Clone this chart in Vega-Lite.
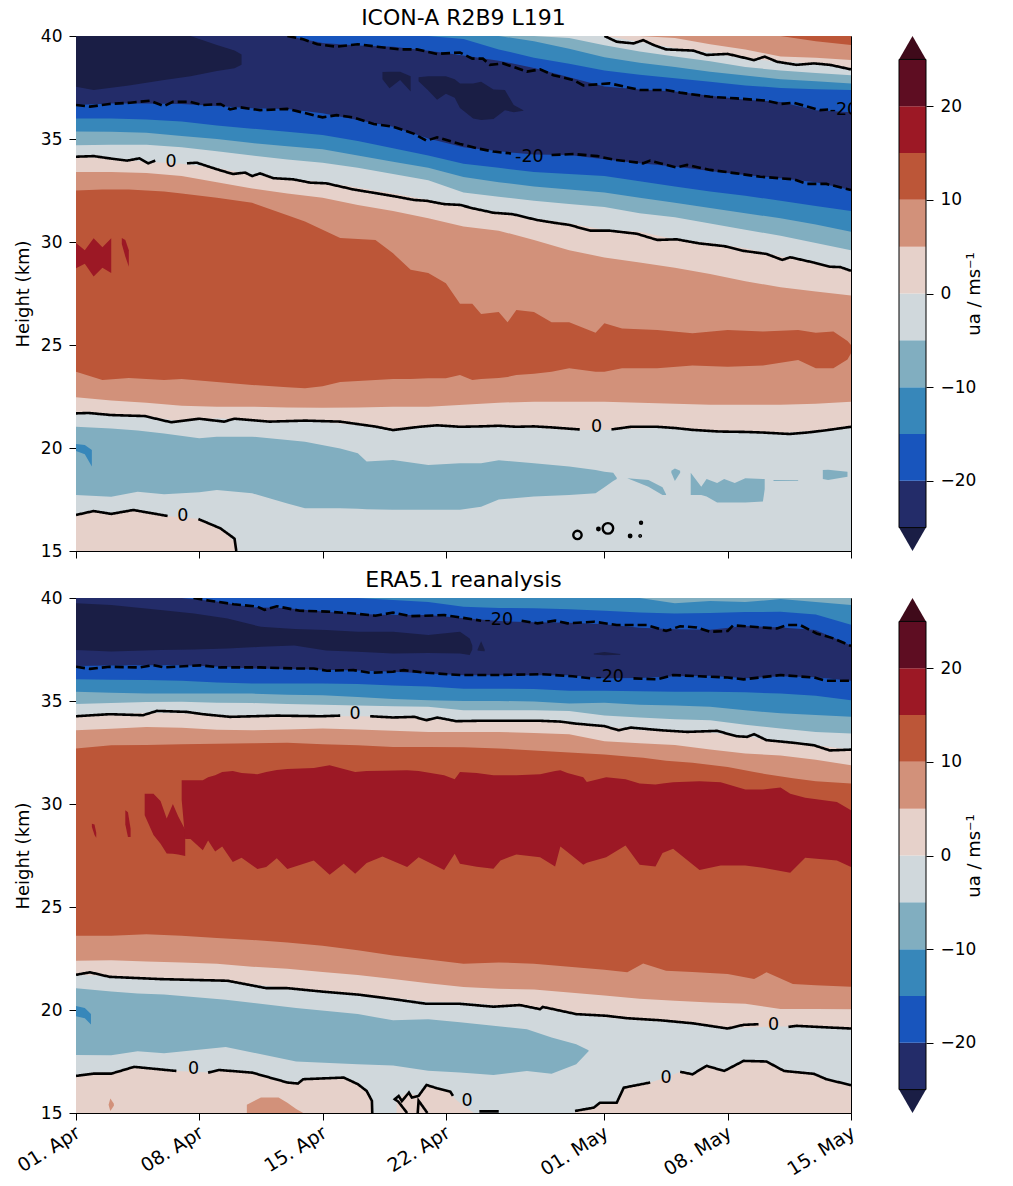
{"$schema":"https://vega.github.io/schema/vega-lite/v6.json","background":"white","padding":{"left":13,"top":6,"right":0,"bottom":0},
"config":{"font":"DejaVu Sans","view":{"stroke":"black","strokeWidth":1},"title":{"fontSize":22,"fontWeight":"normal","font":"DejaVu Sans","offset":-3,"color":"black"},"axis":{"grid":false,"domainColor":"black","tickColor":"black","labelColor":"black","titleColor":"black","labelFont":"DejaVu Sans","titleFont":"DejaVu Sans","labelFontSize":17,"titleFontSize":18,"titleFontWeight":"normal","tickSize":7,"labelPadding":7,"titlePadding":8}},
"datasets":{
"topBands":[
{"d":0,"a":40,"b":40,"c":40,"e":40,"f":40,"g":40,"h":40,"i":40,"j":36.65,"k":36,"l":35.36,"m":34.7,"n":34.14,"o":33.4,"p":22.46,"q":21.68},
{"d":2,"j":36.72,"k":36,"l":35.35,"m":34.72,"n":34.06,"o":33.4,"p":22.3,"q":21.65},
{"d":4,"j":36.72,"k":35.95,"l":35.3,"m":34.72,"n":33.9,"o":33.35,"p":22.2,"q":21.52},
{"d":6,"j":36.7,"k":35.85,"l":35.15,"m":34.6,"n":33.8,"o":33.2,"p":22.05,"q":21.3},
{"d":8,"j":36.6,"k":35.65,"l":35,"m":34.4,"n":33.6,"o":32.9,"p":22,"q":21.44},
{"d":10,"j":36.49,"k":35.5,"l":34.8,"m":34.2,"n":33.25,"o":32.6,"p":22,"q":21.35},
{"d":12,"i":40,"j":36.46,"k":35.35,"l":34.65,"m":34,"n":33.1,"o":32.35,"p":21.97,"q":21.28},
{"d":14,"i":39.66,"j":36.25,"k":35.2,"l":34.5,"m":33.85,"n":32.9,"o":32.15,"p":21.95,"q":21.28},
{"d":16,"i":39.54,"j":35.92,"k":34.9,"l":34.2,"m":33.6,"n":32.65,"o":31.8,"p":21.97,"q":21.1},
{"d":18,"i":39.48,"j":35.6,"k":34.55,"l":33.9,"m":33.3,"n":32.36,"o":31.5,"p":22,"q":20.87},
{"d":20,"h":40,"i":39.28,"j":35.03,"k":34.2,"l":33.6,"m":33,"n":32.05,"o":31.15,"p":22,"q":21.1},
{"d":22,"g":40,"h":39.85,"i":39.05,"j":34.6,"k":33.8,"l":33.15,"m":32.4,"n":31.7,"o":30.75,"p":22.1,"q":21.03},
{"d":24,"f":40,"g":40,"h":39.35,"i":38.8,"j":34.4,"k":33.6,"l":32.9,"m":32.2,"n":31.4,"o":30.55,"p":22.2,"q":21.05},
{"d":26,"f":40,"g":39.75,"h":38.95,"i":38.45,"j":34.25,"k":33.4,"l":32.7,"m":32,"n":31.15,"o":30.1,"p":22.25,"q":21},
{"d":28,"e":40,"f":39.9,"g":39.38,"h":38.65,"i":38,"j":34.22,"k":33.3,"l":32.55,"m":31.85,"n":30.9,"o":29.6,"p":22.25,"q":20.87},
{"d":30,"e":40,"f":39.55,"g":38.97,"h":38.33,"i":37.55,"j":34.02,"k":33.2,"l":32.4,"m":31.7,"n":30.6,"o":29.25,"p":22.25,"q":20.87},
{"d":32,"c":40,"e":39.72,"f":39.25,"g":38.7,"h":38.12,"i":37.4,"j":33.82,"k":32.95,"l":32.15,"m":31.4,"n":30.5,"o":29,"p":22.2,"q":20.95},
{"d":34,"c":39.9,"e":39.4,"f":39,"g":38.5,"h":37.95,"i":37.3,"j":33.66,"k":32.7,"l":31.9,"m":31.2,"n":30.13,"o":28.75,"p":22.15,"q":21},
{"d":36,"c":39.6,"e":39.2,"f":38.78,"g":38.27,"h":37.78,"i":37.1,"j":33.45,"k":32.45,"l":31.65,"m":30.9,"n":29.95,"o":28.45,"p":22.1,"q":20.85},
{"d":38,"b":40,"c":39.35,"e":38.9,"f":38.5,"g":38.08,"h":37.6,"i":36.9,"j":33.25,"k":32.25,"l":31.4,"m":30.6,"n":29.7,"o":28.1,"p":22.1,"q":20.8},
{"d":40,"b":40,"c":39,"e":38.75,"f":38.32,"g":37.9,"h":37.48,"i":36.8,"j":33.09,"k":32,"l":31.15,"m":30.3,"n":29.3,"o":27.8,"p":22.1,"q":20.71},
{"d":42,"b":39.75,"c":38.95,"e":38.67,"f":38.2,"g":37.8,"h":37.42,"i":36.4,"j":32.9,"k":31.75,"l":30.85,"m":29.95,"n":29,"o":27.6,"p":22.15,"q":20.85},
{"d":44,"a":40,"b":39.56,"c":38.83,"e":38.38,"f":38.1,"g":37.7,"h":37.38,"i":36.3,"j":32.52,"k":31.5,"l":30.5,"m":29.6,"n":28.65,"o":27.4,"p":22.25,"q":21.03}],
"botBands":[
{"d":0,"f":40,"g":40,"h":40,"i":40,"j":36.7,"k":36.05,"l":35.45,"m":34.85,"n":34.26,"o":33.58,"p":22.39,"q":21.71},
{"d":2,"j":36.72,"k":36.03,"l":35.4,"m":34.9,"n":34.36,"o":33.65,"p":22.42,"q":21.65},
{"d":4,"j":36.74,"k":36.02,"l":35.37,"m":34.95,"n":34.42,"o":33.74,"p":22.35,"q":21.55},
{"d":6,"i":40,"j":36.74,"k":35.98,"l":35.36,"m":34.96,"n":34.4,"o":33.7,"p":22.3,"q":21.45},
{"d":8,"i":39.83,"j":36.68,"k":35.9,"l":35.36,"m":34.92,"n":34.3,"o":33.6,"p":22.25,"q":21.4},
{"d":10,"i":39.55,"j":36.58,"k":35.85,"l":35.36,"m":34.9,"n":34.28,"o":33.58,"p":22.1,"q":21.25},
{"d":12,"i":39.5,"j":36.55,"k":35.85,"l":35.3,"m":34.85,"n":34.26,"o":33.62,"p":22,"q":21.05},
{"d":14,"h":40,"i":39.34,"j":36.52,"k":35.85,"l":35.28,"m":34.82,"n":34.26,"o":33.66,"p":21.85,"q":20.9},
{"d":16,"h":40,"i":39.22,"j":36.48,"k":35.82,"l":35.2,"m":34.78,"n":34.26,"o":33.62,"p":21.7,"q":20.75},
{"d":18,"h":39.9,"i":39.17,"j":36.42,"k":35.75,"l":35.1,"m":34.74,"n":34.24,"o":33.55,"p":21.5,"q":20.6},
{"d":20,"h":39.8,"i":39.17,"j":36.34,"k":35.7,"l":35.04,"m":34.72,"n":34.15,"o":33.5,"p":21.3,"q":20.4},
{"d":22,"h":39.58,"i":39.02,"j":36.25,"k":35.6,"l":35,"m":34.55,"n":34.04,"o":33.5,"p":21.12,"q":20.37},
{"d":24,"h":39.52,"i":38.88,"j":36.25,"k":35.6,"l":35,"m":34.55,"n":34.05,"o":33.5,"p":21.03,"q":20.22},
{"d":26,"h":39.5,"i":38.82,"j":36.25,"k":35.58,"l":34.98,"m":34.55,"n":34.03,"o":33.45,"p":21,"q":20.12},
{"d":28,"h":39.45,"i":38.8,"j":36.25,"k":35.5,"l":34.88,"m":34.52,"n":33.95,"o":33.38,"p":20.85,"q":19.85},
{"d":30,"h":39.38,"i":38.72,"j":36.1,"k":35.5,"l":34.92,"m":34.3,"n":33.78,"o":33.05,"p":20.7,"q":19.65},
{"d":32,"g":40,"h":39.3,"i":38.55,"j":36.12,"k":35.47,"l":34.82,"m":34.2,"n":33.58,"o":32.95,"p":20.55,"q":19.5},
{"d":34,"g":39.74,"h":39.25,"i":38.48,"j":36.2,"k":35.45,"l":34.78,"m":34.12,"n":33.55,"o":32.87,"p":20.45,"q":19.4},
{"d":36,"g":39.85,"h":39.27,"i":38.46,"j":36.22,"k":35.45,"l":34.72,"m":34.07,"n":33.46,"o":32.65,"p":20.37,"q":19.2},
{"d":38,"g":39.8,"h":39.32,"i":38.64,"j":36.1,"k":35.42,"l":34.55,"m":33.85,"n":33.3,"o":32.45,"p":20.3,"q":19.15},
{"d":40,"g":39.95,"h":39.33,"i":38.57,"j":36.2,"k":35.36,"l":34.4,"m":33.66,"n":33,"o":32.35,"p":20.05,"q":19.2},
{"d":42,"g":39.8,"h":39.2,"i":38.45,"j":36.15,"k":35.25,"l":34.32,"m":33.5,"n":32.85,"o":32.15,"p":20.05,"q":19.2},
{"d":44,"f":40,"g":39.66,"h":38.7,"i":37.7,"j":35.98,"k":35.04,"l":34.23,"m":33.42,"n":32.64,"o":31.88,"p":20.04,"q":19.1}],
"topPatches":[
{"r":"dk1","v":"lt","d":0,"lo":37.54,"hi":40},{"r":"dk1","v":"lt","d":1,"lo":37.38,"hi":40},{"r":"dk1","v":"lt","d":3,"lo":37.6,"hi":40},{"r":"dk1","v":"lt","d":5,"lo":37.86,"hi":40},{"r":"dk1","v":"lt","d":6.5,"lo":38.05,"hi":40},{"r":"dk1","v":"lt","d":8,"lo":38.3,"hi":39.56},{"r":"dk1","v":"lt","d":9,"lo":38.43,"hi":39.3},{"r":"dk1","v":"lt","d":9.4,"lo":38.6,"hi":39.1},
{"r":"dk2","v":"lt","d":17.4,"lo":37.9,"hi":38.25},{"r":"dk2","v":"lt","d":17.8,"lo":37.46,"hi":38.27},{"r":"dk2","v":"lt","d":18.4,"lo":37.86,"hi":38.27},{"r":"dk2","v":"lt","d":19,"lo":37.3,"hi":38.05},
{"r":"dk3","v":"lt","d":19.45,"lo":37.8,"hi":38},{"r":"dk3","v":"lt","d":20,"lo":37.35,"hi":38.05},{"r":"dk3","v":"lt","d":20.5,"lo":36.9,"hi":38.05},{"r":"dk3","v":"lt","d":21,"lo":37.2,"hi":38.05},{"r":"dk3","v":"lt","d":21.5,"lo":37,"hi":37.9},{"r":"dk3","v":"lt","d":21.8,"lo":36.5,"hi":37.7},{"r":"dk3","v":"lt","d":22.55,"lo":36,"hi":37.7},{"r":"dk3","v":"lt","d":23,"lo":35.92,"hi":37.78},{"r":"dk3","v":"lt","d":23.7,"lo":35.97,"hi":37.4},{"r":"dk3","v":"lt","d":24.35,"lo":36.4,"hi":37.38},{"r":"dk3","v":"lt","d":24.85,"lo":36.3,"hi":36.65},{"r":"dk3","v":"lt","d":25.4,"lo":36.37,"hi":36.4},
{"r":"br","v":"10","d":0,"lo":23.7,"hi":32.5},{"r":"br","v":"10","d":1.5,"lo":23.3,"hi":32.55},{"r":"br","v":"10","d":3,"lo":23.4,"hi":32.55},{"r":"br","v":"10","d":5,"lo":23.3,"hi":32.45},{"r":"br","v":"10","d":6,"lo":23.35,"hi":32.36},{"r":"br","v":"10","d":8,"lo":23.2,"hi":32.15},{"r":"br","v":"10","d":10,"lo":23.06,"hi":31.9},{"r":"br","v":"10","d":12,"lo":22.95,"hi":31.3},{"r":"br","v":"10","d":13,"lo":22.9,"hi":31},{"r":"br","v":"10","d":14,"lo":23,"hi":30.6},{"r":"br","v":"10","d":15,"lo":23.2,"hi":30.2},{"r":"br","v":"10","d":17,"lo":23.3,"hi":30.1},{"r":"br","v":"10","d":18,"lo":23.35,"hi":29.45},{"r":"br","v":"10","d":19,"lo":23.35,"hi":28.65},{"r":"br","v":"10","d":20,"lo":23.38,"hi":28.5},{"r":"br","v":"10","d":21,"lo":23.38,"hi":28},{"r":"br","v":"10","d":21.8,"lo":23.54,"hi":27},{"r":"br","v":"10","d":22.5,"lo":23.3,"hi":27},{"r":"br","v":"10","d":23,"lo":23.35,"hi":26.5},{"r":"br","v":"10","d":24,"lo":23.4,"hi":26.6},{"r":"br","v":"10","d":24.5,"lo":23.45,"hi":26.1},{"r":"br","v":"10","d":25,"lo":23.54,"hi":26.7},{"r":"br","v":"10","d":26,"lo":23.6,"hi":26.6},{"r":"br","v":"10","d":27,"lo":23.7,"hi":26.1},{"r":"br","v":"10","d":28,"lo":23.87,"hi":26.1},{"r":"br","v":"10","d":29.5,"lo":23.7,"hi":25.6},{"r":"br","v":"10","d":30,"lo":23.7,"hi":26.05},{"r":"br","v":"10","d":31,"lo":23.87,"hi":25.8},{"r":"br","v":"10","d":33,"lo":23.87,"hi":25.73},{"r":"br","v":"10","d":35,"lo":24,"hi":25.57},{"r":"br","v":"10","d":37,"lo":23.95,"hi":25.73},{"r":"br","v":"10","d":39,"lo":24,"hi":25.65},{"r":"br","v":"10","d":41,"lo":24.27,"hi":25.73},{"r":"br","v":"10","d":42,"lo":23.87,"hi":25.6},{"r":"br","v":"10","d":43,"lo":23.87,"hi":25.65},{"r":"br","v":"10","d":43.8,"lo":24.3,"hi":25.2},{"r":"br","v":"10","d":44,"lo":24.6,"hi":25},
{"r":"red1","v":"15","d":0,"lo":28.72,"hi":29.95},{"r":"red1","v":"15","d":0.5,"lo":28.95,"hi":29.6},{"r":"red1","v":"15","d":1,"lo":28.32,"hi":30.18},{"r":"red1","v":"15","d":1.5,"lo":28.75,"hi":29.75},{"r":"red1","v":"15","d":2,"lo":28.5,"hi":30.18},{"r":"red2","v":"15","d":2.6,"lo":29.9,"hi":30.2},{"r":"red2","v":"15","d":2.8,"lo":29.3,"hi":30.1},{"r":"red2","v":"15","d":3,"lo":28.8,"hi":29.6},
{"r":"lb","v":"-10","d":0,"lo":17.72,"hi":21.03},{"r":"lb","v":"-10","d":2,"lo":17.63,"hi":20.95},{"r":"lb","v":"-10","d":3.5,"lo":17.88,"hi":20.85},{"r":"lb","v":"-10","d":5,"lo":17.75,"hi":20.7},{"r":"lb","v":"-10","d":7,"lo":17.85,"hi":20.47},{"r":"lb","v":"-10","d":8,"lo":17.96,"hi":20.55},{"r":"lb","v":"-10","d":10,"lo":17.8,"hi":20.55},{"r":"lb","v":"-10","d":12,"lo":17.3,"hi":20.39},{"r":"lb","v":"-10","d":13,"lo":17.07,"hi":20.3},{"r":"lb","v":"-10","d":15,"lo":17.07,"hi":19.98},{"r":"lb","v":"-10","d":16,"lo":17.05,"hi":19.74},{"r":"lb","v":"-10","d":16.5,"lo":17.03,"hi":19.34},{"r":"lb","v":"-10","d":18,"lo":17,"hi":19.42},{"r":"lb","v":"-10","d":20,"lo":17,"hi":19.17},{"r":"lb","v":"-10","d":21.8,"lo":17,"hi":19.26},{"r":"lb","v":"-10","d":23,"lo":17.15,"hi":19.26},{"r":"lb","v":"-10","d":24,"lo":17.5,"hi":19.4},{"r":"lb","v":"-10","d":26,"lo":17.64,"hi":19.26},{"r":"lb","v":"-10","d":28,"lo":17.72,"hi":19.1},{"r":"lb","v":"-10","d":29.5,"lo":17.8,"hi":18.93},{"r":"lb","v":"-10","d":30,"lo":18.1,"hi":18.85},{"r":"lb","v":"-10","d":30.5,"lo":18.4,"hi":18.8},{"r":"lb","v":"-10","d":30.7,"lo":18.5,"hi":18.55},
{"r":"mb","v":"-15","d":0,"lo":19.85,"hi":20.2},{"r":"mb","v":"-15","d":0.5,"lo":19.7,"hi":20.15},{"r":"mb","v":"-15","d":0.9,"lo":19.1,"hi":19.9},
{"r":"p1","v":"-10","d":31.3,"lo":18.53,"hi":18.53},{"r":"p1","v":"-10","d":32.5,"lo":18.12,"hi":18.45},{"r":"p1","v":"-10","d":33.3,"lo":17.72,"hi":18.1},{"r":"p1","v":"-10","d":33.5,"lo":17.72,"hi":17.75},
{"r":"p2","v":"-10","d":33.8,"lo":18.8,"hi":18.9},{"r":"p2","v":"-10","d":34,"lo":18.4,"hi":19},{"r":"p2","v":"-10","d":34.3,"lo":18.8,"hi":18.9},
{"r":"p3","v":"-10","d":34.9,"lo":17.72,"hi":18.8},{"r":"p3","v":"-10","d":35.5,"lo":17.72,"hi":18.12},{"r":"p3","v":"-10","d":35.8,"lo":17.65,"hi":18.5},{"r":"p3","v":"-10","d":36.4,"lo":17.35,"hi":18.3},{"r":"p3","v":"-10","d":36.8,"lo":17.35,"hi":18.5},{"r":"p3","v":"-10","d":37.4,"lo":17.35,"hi":18.3},{"r":"p3","v":"-10","d":38,"lo":17.35,"hi":18.53},{"r":"p3","v":"-10","d":39,"lo":17.4,"hi":18.5},{"r":"p3","v":"-10","d":39.1,"lo":18,"hi":18.5},
{"r":"p4","v":"-10","d":39.6,"lo":18.4,"hi":18.45},{"r":"p4","v":"-10","d":41,"lo":18.4,"hi":18.43},
{"r":"p5","v":"-10","d":42.4,"lo":18.5,"hi":18.93},{"r":"p5","v":"-10","d":42.7,"lo":18.45,"hi":18.95},{"r":"p5","v":"-10","d":43.8,"lo":18.6,"hi":18.85},
{"r":"pk","v":"0","d":0,"lo":15,"hi":16.75},{"r":"pk","v":"0","d":1,"lo":15,"hi":16.94},{"r":"pk","v":"0","d":2,"lo":15,"hi":16.8},{"r":"pk","v":"0","d":3.25,"lo":15,"hi":16.99},{"r":"pk","v":"0","d":5.15,"lo":15,"hi":16.7},{"r":"pk","v":"0","d":7,"lo":15,"hi":16.55},{"r":"pk","v":"0","d":8.2,"lo":15,"hi":16.1},{"r":"pk","v":"0","d":9.1,"lo":15,"hi":15.37},{"r":"pk","v":"0","d":9.15,"lo":15,"hi":15}],
"botPatches":[
{"r":"dk1","v":"lt","d":0,"lo":37.47,"hi":39.75},{"r":"dk1","v":"lt","d":2,"lo":37.4,"hi":39.66},{"r":"dk1","v":"lt","d":4.8,"lo":37.47,"hi":39.42},{"r":"dk1","v":"lt","d":6.7,"lo":37.5,"hi":39.25},{"r":"dk1","v":"lt","d":8.6,"lo":37.55,"hi":39},{"r":"dk1","v":"lt","d":10.5,"lo":37.63,"hi":38.6},{"r":"dk1","v":"lt","d":12.4,"lo":37.7,"hi":38.5},{"r":"dk1","v":"lt","d":14.2,"lo":37.45,"hi":38.45},{"r":"dk1","v":"lt","d":16,"lo":37.39,"hi":38.36},{"r":"dk1","v":"lt","d":18,"lo":37.31,"hi":38.36},{"r":"dk1","v":"lt","d":20,"lo":37.33,"hi":38.2},{"r":"dk1","v":"lt","d":21.8,"lo":37.31,"hi":38.36},{"r":"dk1","v":"lt","d":22.35,"lo":37.23,"hi":38.04},{"r":"dk1","v":"lt","d":22.5,"lo":37.5,"hi":37.7},
{"r":"dk2","v":"lt","d":22.8,"lo":37.45,"hi":37.5},{"r":"dk2","v":"lt","d":23,"lo":37.43,"hi":37.9},{"r":"dk2","v":"lt","d":23.2,"lo":37.42,"hi":37.5},
{"r":"dk3","v":"lt","d":29.4,"lo":37.26,"hi":37.3},{"r":"dk3","v":"lt","d":30,"lo":37.22,"hi":37.38},{"r":"dk3","v":"lt","d":30.9,"lo":37.24,"hi":37.28},
{"r":"br","v":"10","d":0,"lo":23.61,"hi":32.7},{"r":"br","v":"10","d":2,"lo":23.6,"hi":32.85},{"r":"br","v":"10","d":4,"lo":23.68,"hi":32.87},{"r":"br","v":"10","d":6,"lo":23.6,"hi":32.9},{"r":"br","v":"10","d":8,"lo":23.5,"hi":32.93},{"r":"br","v":"10","d":10,"lo":23.4,"hi":32.95},{"r":"br","v":"10","d":12,"lo":23.28,"hi":32.97},{"r":"br","v":"10","d":14,"lo":23.12,"hi":32.9},{"r":"br","v":"10","d":16,"lo":22.9,"hi":32.85},{"r":"br","v":"10","d":18,"lo":22.64,"hi":32.77},{"r":"br","v":"10","d":20,"lo":22.45,"hi":32.77},{"r":"br","v":"10","d":22,"lo":22.25,"hi":32.75},{"r":"br","v":"10","d":24,"lo":22.31,"hi":32.7},{"r":"br","v":"10","d":26,"lo":22.25,"hi":32.6},{"r":"br","v":"10","d":28,"lo":22.1,"hi":32.5},{"r":"br","v":"10","d":30,"lo":21.95,"hi":32.4},{"r":"br","v":"10","d":31.3,"lo":21.83,"hi":32.3},{"r":"br","v":"10","d":32.2,"lo":22.26,"hi":32.25},{"r":"br","v":"10","d":33.5,"lo":21.9,"hi":32.1},{"r":"br","v":"10","d":35,"lo":21.85,"hi":32},{"r":"br","v":"10","d":37,"lo":21.75,"hi":31.8},{"r":"br","v":"10","d":38.5,"lo":21.5,"hi":31.55},{"r":"br","v":"10","d":39.2,"lo":21.83,"hi":31.45},{"r":"br","v":"10","d":40.7,"lo":21.26,"hi":31.25},{"r":"br","v":"10","d":42,"lo":21.2,"hi":31.1},{"r":"br","v":"10","d":44,"lo":21.13,"hi":31},
{"r":"s1","v":"15","d":0.9,"lo":28.9,"hi":29.04},{"r":"s1","v":"15","d":1.05,"lo":28.5,"hi":29},{"r":"s1","v":"15","d":1.15,"lo":28.36,"hi":28.6},
{"r":"s2","v":"15","d":2.8,"lo":29,"hi":29.7},{"r":"s2","v":"15","d":2.95,"lo":28.4,"hi":29.6},{"r":"s2","v":"15","d":3.1,"lo":28.4,"hi":28.8},
{"r":"s3","v":"15","d":3.9,"lo":29.45,"hi":30.5},{"r":"s3","v":"15","d":4.4,"lo":28.5,"hi":30.5},{"r":"s3","v":"15","d":4.8,"lo":28.07,"hi":30.15},{"r":"s3","v":"15","d":5.15,"lo":27.6,"hi":29.3},{"r":"s3","v":"15","d":5.5,"lo":27.58,"hi":30},{"r":"s3","v":"15","d":5.8,"lo":27.55,"hi":29.4},{"r":"s3","v":"15","d":6.2,"lo":27.47,"hi":28.75},
{"r":"red","v":"15","d":6,"lo":30.2,"hi":31.15},{"r":"red","v":"15","d":6.2,"lo":28.3,"hi":31.15},{"r":"red","v":"15","d":6.5,"lo":28.3,"hi":31.15},{"r":"red","v":"15","d":7.2,"lo":27.75,"hi":31.15},{"r":"red","v":"15","d":7.5,"lo":28.23,"hi":31.3},{"r":"red","v":"15","d":7.9,"lo":27.7,"hi":31.4},{"r":"red","v":"15","d":8.3,"lo":27.94,"hi":31.55},{"r":"red","v":"15","d":8.9,"lo":27.18,"hi":31.6},{"r":"red","v":"15","d":9.4,"lo":27.39,"hi":31.5},{"r":"red","v":"15","d":10.3,"lo":26.85,"hi":31.45},{"r":"red","v":"15","d":10.8,"lo":26.94,"hi":31.55},{"r":"red","v":"15","d":11.4,"lo":27.37,"hi":31.65},{"r":"red","v":"15","d":12,"lo":26.85,"hi":31.7},{"r":"red","v":"15","d":13.5,"lo":27.26,"hi":31.75},{"r":"red","v":"15","d":14.4,"lo":26.56,"hi":31.88},{"r":"red","v":"15","d":15.2,"lo":27.1,"hi":31.7},{"r":"red","v":"15","d":15.85,"lo":26.61,"hi":31.55},{"r":"red","v":"15","d":16.5,"lo":27.13,"hi":31.6},{"r":"red","v":"15","d":17.4,"lo":27.45,"hi":31.62},{"r":"red","v":"15","d":18.8,"lo":26.94,"hi":31.64},{"r":"red","v":"15","d":19.45,"lo":27.42,"hi":31.6},{"r":"red","v":"15","d":20.9,"lo":26.8,"hi":31.4},{"r":"red","v":"15","d":21.5,"lo":27.58,"hi":31.2},{"r":"red","v":"15","d":21.8,"lo":27.1,"hi":31.55},{"r":"red","v":"15","d":22.75,"lo":26.95,"hi":31.5},{"r":"red","v":"15","d":23.7,"lo":26.86,"hi":31.4},{"r":"red","v":"15","d":24.1,"lo":27.26,"hi":31.4},{"r":"red","v":"15","d":25,"lo":27.55,"hi":31.4},{"r":"red","v":"15","d":26.35,"lo":27.42,"hi":31.45},{"r":"red","v":"15","d":27.2,"lo":26.97,"hi":31.6},{"r":"red","v":"15","d":27.5,"lo":27.94,"hi":31.64},{"r":"red","v":"15","d":27.9,"lo":27.67,"hi":31.5},{"r":"red","v":"15","d":28.8,"lo":27.05,"hi":31.3},{"r":"red","v":"15","d":29,"lo":27.15,"hi":31.07},{"r":"red","v":"15","d":30.1,"lo":27.42,"hi":31.3},{"r":"red","v":"15","d":31.2,"lo":27.99,"hi":31.2},{"r":"red","v":"15","d":32,"lo":27.05,"hi":31},{"r":"red","v":"15","d":32.9,"lo":26.97,"hi":30.95},{"r":"red","v":"15","d":33.3,"lo":27.62,"hi":31},{"r":"red","v":"15","d":33.9,"lo":27.83,"hi":31.05},{"r":"red","v":"15","d":35.4,"lo":26.8,"hi":31.1},{"r":"red","v":"15","d":36.6,"lo":27.02,"hi":31.05},{"r":"red","v":"15","d":38,"lo":27.02,"hi":30.7},{"r":"red","v":"15","d":39,"lo":26.9,"hi":30.7},{"r":"red","v":"15","d":40,"lo":26.75,"hi":30.8},{"r":"red","v":"15","d":40.55,"lo":26.66,"hi":30.5},{"r":"red","v":"15","d":41.4,"lo":27.39,"hi":30.3},{"r":"red","v":"15","d":43.2,"lo":27.26,"hi":30.1},{"r":"red","v":"15","d":44,"lo":26.94,"hi":29.7},
{"r":"lb","v":"-10","d":0,"lo":17.82,"hi":21.06},{"r":"lb","v":"-10","d":2,"lo":17.8,"hi":20.9},{"r":"lb","v":"-10","d":3.5,"lo":18,"hi":20.8},{"r":"lb","v":"-10","d":5,"lo":17.9,"hi":20.75},{"r":"lb","v":"-10","d":8.5,"lo":18.2,"hi":20.5},{"r":"lb","v":"-10","d":12.5,"lo":17.5,"hi":20.1},{"r":"lb","v":"-10","d":16,"lo":17.37,"hi":19.8},{"r":"lb","v":"-10","d":18,"lo":17.3,"hi":19.5},{"r":"lb","v":"-10","d":20,"lo":17.05,"hi":19.55},{"r":"lb","v":"-10","d":21.8,"lo":16.96,"hi":19.4},{"r":"lb","v":"-10","d":23.7,"lo":16.85,"hi":19.23},{"r":"lb","v":"-10","d":25.6,"lo":17.04,"hi":19.07},{"r":"lb","v":"-10","d":27,"lo":16.9,"hi":18.67},{"r":"lb","v":"-10","d":28.4,"lo":17.37,"hi":18.34},{"r":"lb","v":"-10","d":29.1,"lo":18,"hi":18.05},
{"r":"mb","v":"-15","d":0,"lo":19.7,"hi":20.2},{"r":"mb","v":"-15","d":0.5,"lo":19.6,"hi":20.1},{"r":"mb","v":"-15","d":0.85,"lo":19.3,"hi":19.8},
{"r":"pk","v":"0","d":0,"lo":15,"hi":16.8},{"r":"pk","v":"0","d":1,"lo":15,"hi":16.91},{"r":"pk","v":"0","d":2,"lo":15,"hi":16.91},{"r":"pk","v":"0","d":3.3,"lo":15,"hi":17.24},{"r":"pk","v":"0","d":5.7,"lo":15,"hi":17.04},{"r":"pk","v":"0","d":7.5,"lo":15,"hi":16.96},{"r":"pk","v":"0","d":8.1,"lo":15,"hi":17.09},{"r":"pk","v":"0","d":10,"lo":15,"hi":16.96},{"r":"pk","v":"0","d":12,"lo":15,"hi":16.48},{"r":"pk","v":"0","d":12.6,"lo":15,"hi":16.43},{"r":"pk","v":"0","d":12.9,"lo":15,"hi":16.64},{"r":"pk","v":"0","d":15.2,"lo":15,"hi":16.72},{"r":"pk","v":"0","d":16,"lo":15,"hi":16.4},{"r":"pk","v":"0","d":16.5,"lo":15,"hi":16.07},{"r":"pk","v":"0","d":16.8,"lo":15,"hi":15.6},{"r":"pk","v":"0","d":16.82,"lo":15,"hi":15},
{"r":"pk2","v":"0","d":18.2,"lo":15,"hi":15.6},{"r":"pk2","v":"0","d":18.8,"lo":15,"hi":16},{"r":"pk2","v":"0","d":19.45,"lo":15,"hi":15.83},{"r":"pk2","v":"0","d":19.9,"lo":15,"hi":16.36},{"r":"pk2","v":"0","d":20.5,"lo":15,"hi":16.2},{"r":"pk2","v":"0","d":21.25,"lo":15,"hi":16.04},{"r":"pk2","v":"0","d":21.5,"lo":15,"hi":15.7},{"r":"pk2","v":"0","d":22,"lo":15,"hi":15.35},{"r":"pk2","v":"0","d":22.6,"lo":15,"hi":15},
{"r":"pk3","v":"0","d":28.33,"lo":15,"hi":15.05},{"r":"pk3","v":"0","d":29.4,"lo":15,"hi":15.26},{"r":"pk3","v":"0","d":29.75,"lo":15,"hi":15.5},{"r":"pk3","v":"0","d":30.7,"lo":15,"hi":15.5},{"r":"pk3","v":"0","d":31.1,"lo":15,"hi":16.23},{"r":"pk3","v":"0","d":32.6,"lo":15,"hi":16.48},{"r":"pk3","v":"0","d":33.5,"lo":15,"hi":16.72},{"r":"pk3","v":"0","d":34.3,"lo":15,"hi":17},{"r":"pk3","v":"0","d":35,"lo":15,"hi":16.88},{"r":"pk3","v":"0","d":35.8,"lo":15,"hi":17.29},{"r":"pk3","v":"0","d":36.8,"lo":15,"hi":17.04},{"r":"pk3","v":"0","d":37.9,"lo":15,"hi":17.53},{"r":"pk3","v":"0","d":39.2,"lo":15,"hi":17.5},{"r":"pk3","v":"0","d":40.2,"lo":15,"hi":17.04},{"r":"pk3","v":"0","d":41.9,"lo":15,"hi":16.9},{"r":"pk3","v":"0","d":42.6,"lo":15,"hi":16.64},{"r":"pk3","v":"0","d":44,"lo":15,"hi":16.35},
{"r":"sa1","v":"5","d":9.7,"lo":15,"hi":15.4},{"r":"sa1","v":"5","d":10.5,"lo":15,"hi":15.75},{"r":"sa1","v":"5","d":11.5,"lo":15,"hi":15.75},{"r":"sa1","v":"5","d":12,"lo":15,"hi":15.5},{"r":"sa1","v":"5","d":12.5,"lo":15,"hi":15.2},{"r":"sa1","v":"5","d":12.9,"lo":15,"hi":15},
{"r":"sa2","v":"5","d":1.85,"lo":15.4,"hi":15.4},{"r":"sa2","v":"5","d":1.95,"lo":15.1,"hi":15.7},{"r":"sa2","v":"5","d":2.15,"lo":15.35,"hi":15.45}],
"topLines":[
{"l":"z1","s":"solid","d":0,"h":34.14},{"l":"z1","s":"solid","d":1,"h":34.17},{"l":"z1","s":"solid","d":1.9,"h":34.06},{"l":"z1","s":"solid","d":2.9,"h":33.95},{"l":"z1","s":"solid","d":3.6,"h":34.06},{"l":"z1","s":"solid","d":4.1,"h":33.82},{"l":"z1","s":"solid","d":4.5,"h":33.95},
{"l":"z2","s":"solid","d":6.3,"h":33.82},{"l":"z2","s":"solid","d":6.85,"h":33.85},{"l":"z2","s":"solid","d":8,"h":33.53},{"l":"z2","s":"solid","d":8.9,"h":33.3},{"l":"z2","s":"solid","d":9.6,"h":33.37},{"l":"z2","s":"solid","d":10,"h":33.2},{"l":"z2","s":"solid","d":10.45,"h":33.33},{"l":"z2","s":"solid","d":11.2,"h":33.1},{"l":"z2","s":"solid","d":12.35,"h":33.04},{"l":"z2","s":"solid","d":13.3,"h":32.88},{"l":"z2","s":"solid","d":14.2,"h":32.85},{"l":"z2","s":"solid","d":15.75,"h":32.55},{"l":"z2","s":"solid","d":17.1,"h":32.36},{"l":"z2","s":"solid","d":18.2,"h":32.2},{"l":"z2","s":"solid","d":19.2,"h":32.04},{"l":"z2","s":"solid","d":19.9,"h":32},{"l":"z2","s":"solid","d":20.9,"h":31.84},{"l":"z2","s":"solid","d":21.8,"h":31.8},{"l":"z2","s":"solid","d":22.56,"h":31.63},{"l":"z2","s":"solid","d":23.7,"h":31.42},{"l":"z2","s":"solid","d":24.8,"h":31.35},{"l":"z2","s":"solid","d":26.16,"h":31.07},{"l":"z2","s":"solid","d":27.1,"h":30.94},{"l":"z2","s":"solid","d":28,"h":30.83},{"l":"z2","s":"solid","d":29.2,"h":30.55},{"l":"z2","s":"solid","d":30.3,"h":30.55},{"l":"z2","s":"solid","d":31.84,"h":30.4},{"l":"z2","s":"solid","d":33,"h":30.1},{"l":"z2","s":"solid","d":34.1,"h":30.13},{"l":"z2","s":"solid","d":35.4,"h":29.93},{"l":"z2","s":"solid","d":36.8,"h":29.8},{"l":"z2","s":"solid","d":37.9,"h":29.57},{"l":"z2","s":"solid","d":39.2,"h":29.42},{"l":"z2","s":"solid","d":40.1,"h":29.13},{"l":"z2","s":"solid","d":40.55,"h":29.26},{"l":"z2","s":"solid","d":41.9,"h":29},{"l":"z2","s":"solid","d":42.8,"h":28.8},{"l":"z2","s":"solid","d":43.4,"h":28.78},{"l":"z2","s":"solid","d":44,"h":28.6},
{"l":"z3","s":"solid","d":30,"h":40},{"l":"z3","s":"solid","d":30.7,"h":39.72},{"l":"z3","s":"solid","d":31.65,"h":39.64},{"l":"z3","s":"solid","d":32.2,"h":39.8},{"l":"z3","s":"solid","d":32.8,"h":39.56},{"l":"z3","s":"solid","d":33.5,"h":39.35},{"l":"z3","s":"solid","d":35.05,"h":39.29},{"l":"z3","s":"solid","d":35.8,"h":39.08},{"l":"z3","s":"solid","d":37,"h":39.13},{"l":"z3","s":"solid","d":38.5,"h":38.83},{"l":"z3","s":"solid","d":39.1,"h":39},{"l":"z3","s":"solid","d":39.8,"h":38.75},{"l":"z3","s":"solid","d":40.9,"h":38.6},{"l":"z3","s":"solid","d":41.9,"h":38.67},{"l":"z3","s":"solid","d":42.8,"h":38.6},{"l":"z3","s":"solid","d":44,"h":38.38},
{"l":"n1","s":"dash","d":0,"h":36.65},{"l":"n1","s":"dash","d":0.8,"h":36.57},{"l":"n1","s":"dash","d":1.9,"h":36.7},{"l":"n1","s":"dash","d":3.07,"h":36.76},{"l":"n1","s":"dash","d":4.2,"h":36.86},{"l":"n1","s":"dash","d":5,"h":36.6},{"l":"n1","s":"dash","d":5.5,"h":36.8},{"l":"n1","s":"dash","d":6.5,"h":36.8},{"l":"n1","s":"dash","d":7.2,"h":36.65},{"l":"n1","s":"dash","d":8.2,"h":36.7},{"l":"n1","s":"dash","d":8.75,"h":36.44},{"l":"n1","s":"dash","d":9.3,"h":36.54},{"l":"n1","s":"dash","d":10.45,"h":36.4},{"l":"n1","s":"dash","d":12,"h":36.46},{"l":"n1","s":"dash","d":12.9,"h":36.28},{"l":"n1","s":"dash","d":14,"h":36.05},{"l":"n1","s":"dash","d":14.8,"h":36.16},{"l":"n1","s":"dash","d":15.75,"h":36.05},{"l":"n1","s":"dash","d":16.9,"h":35.73},{"l":"n1","s":"dash","d":18,"h":35.6},{"l":"n1","s":"dash","d":19.2,"h":35.25},{"l":"n1","s":"dash","d":19.9,"h":34.92},{"l":"n1","s":"dash","d":20.5,"h":35.08},{"l":"n1","s":"dash","d":21.8,"h":34.76},{"l":"n1","s":"dash","d":22.75,"h":34.55},{"l":"n1","s":"dash","d":23.7,"h":34.39},{"l":"n1","s":"dash","d":24.7,"h":34.3},
{"l":"n2","s":"dash","d":27,"h":34.22},{"l":"n2","s":"dash","d":28.25,"h":34.27},{"l":"n2","s":"dash","d":29.6,"h":34.17},{"l":"n2","s":"dash","d":30.5,"h":34},{"l":"n2","s":"dash","d":32.2,"h":33.82},{"l":"n2","s":"dash","d":32.6,"h":33.95},{"l":"n2","s":"dash","d":34.1,"h":33.62},{"l":"n2","s":"dash","d":34.7,"h":33.74},{"l":"n2","s":"dash","d":36,"h":33.5},{"l":"n2","s":"dash","d":37.5,"h":33.33},{"l":"n2","s":"dash","d":38.85,"h":33.17},{"l":"n2","s":"dash","d":40.75,"h":33.04},{"l":"n2","s":"dash","d":41.5,"h":32.82},{"l":"n2","s":"dash","d":42.6,"h":32.82},{"l":"n2","s":"dash","d":44,"h":32.52},
{"l":"n3","s":"dash","d":12,"h":40},{"l":"n3","s":"dash","d":12.9,"h":39.84},{"l":"n3","s":"dash","d":13.7,"h":39.6},{"l":"n3","s":"dash","d":14.8,"h":39.48},{"l":"n3","s":"dash","d":16,"h":39.6},{"l":"n3","s":"dash","d":17.1,"h":39.48},{"l":"n3","s":"dash","d":18.4,"h":39.35},{"l":"n3","s":"dash","d":19.35,"h":39.35},{"l":"n3","s":"dash","d":20.5,"h":39.13},{"l":"n3","s":"dash","d":21.8,"h":39.2},{"l":"n3","s":"dash","d":22.5,"h":38.9},{"l":"n3","s":"dash","d":23.1,"h":38.9},{"l":"n3","s":"dash","d":23.5,"h":38.6},{"l":"n3","s":"dash","d":24.25,"h":38.67},{"l":"n3","s":"dash","d":25.6,"h":38.27},{"l":"n3","s":"dash","d":26.35,"h":38.38},{"l":"n3","s":"dash","d":27.1,"h":38.1},{"l":"n3","s":"dash","d":28.25,"h":37.86},{"l":"n3","s":"dash","d":28.8,"h":37.6},{"l":"n3","s":"dash","d":30.3,"h":37.7},{"l":"n3","s":"dash","d":32,"h":37.38},{"l":"n3","s":"dash","d":33.5,"h":37.38},{"l":"n3","s":"dash","d":34.3,"h":37.25},{"l":"n3","s":"dash","d":36,"h":37.05},{"l":"n3","s":"dash","d":37.5,"h":36.97},{"l":"n3","s":"dash","d":39.2,"h":36.86},{"l":"n3","s":"dash","d":40,"h":36.7},{"l":"n3","s":"dash","d":40.75,"h":36.76},{"l":"n3","s":"dash","d":42.25,"h":36.4},{"l":"n3","s":"dash","d":42.7,"h":36.43},
{"l":"z4","s":"solid","d":0,"h":21.68},{"l":"z4","s":"solid","d":0.7,"h":21.7},{"l":"z4","s":"solid","d":2,"h":21.6},{"l":"z4","s":"solid","d":3.9,"h":21.55},{"l":"z4","s":"solid","d":5.4,"h":21.25},{"l":"z4","s":"solid","d":7,"h":21.42},{"l":"z4","s":"solid","d":8.4,"h":21.28},{"l":"z4","s":"solid","d":9,"h":21.42},{"l":"z4","s":"solid","d":11,"h":21.28},{"l":"z4","s":"solid","d":13,"h":21.33},{"l":"z4","s":"solid","d":15,"h":21.28},{"l":"z4","s":"solid","d":17,"h":21.04},{"l":"z4","s":"solid","d":18,"h":20.87},{"l":"z4","s":"solid","d":19.5,"h":21.03},{"l":"z4","s":"solid","d":20.5,"h":21.1},{"l":"z4","s":"solid","d":21.8,"h":21.03},{"l":"z4","s":"solid","d":23,"h":21.05},{"l":"z4","s":"solid","d":24,"h":21.08},{"l":"z4","s":"solid","d":25,"h":21.03},{"l":"z4","s":"solid","d":26,"h":21.05},{"l":"z4","s":"solid","d":27,"h":21},{"l":"z4","s":"solid","d":28.6,"h":20.9},
{"l":"z5","s":"solid","d":30.4,"h":20.9},{"l":"z5","s":"solid","d":31.5,"h":21.03},{"l":"z5","s":"solid","d":33,"h":21.03},{"l":"z5","s":"solid","d":34,"h":20.97},{"l":"z5","s":"solid","d":35,"h":20.88},{"l":"z5","s":"solid","d":36.5,"h":20.8},{"l":"z5","s":"solid","d":38,"h":20.78},{"l":"z5","s":"solid","d":39,"h":20.75},{"l":"z5","s":"solid","d":40.5,"h":20.68},{"l":"z5","s":"solid","d":41.5,"h":20.75},{"l":"z5","s":"solid","d":42.5,"h":20.85},{"l":"z5","s":"solid","d":44,"h":21.03},
{"l":"z6","s":"solid","d":0,"h":16.75},{"l":"z6","s":"solid","d":1,"h":16.94},{"l":"z6","s":"solid","d":2,"h":16.8},{"l":"z6","s":"solid","d":3.25,"h":16.99},{"l":"z6","s":"solid","d":5.2,"h":16.7},
{"l":"z7","s":"solid","d":6.95,"h":16.55},{"l":"z7","s":"solid","d":8.2,"h":16.1},{"l":"z7","s":"solid","d":9,"h":15.6},{"l":"z7","s":"solid","d":9.1,"h":15}],
"botLines":[
{"l":"z1","s":"solid","d":0,"h":34.26},{"l":"z1","s":"solid","d":1.9,"h":34.36},{"l":"z1","s":"solid","d":3.8,"h":34.31},{"l":"z1","s":"solid","d":4.6,"h":34.52},{"l":"z1","s":"solid","d":6.3,"h":34.47},{"l":"z1","s":"solid","d":7.2,"h":34.36},{"l":"z1","s":"solid","d":8.75,"h":34.23},{"l":"z1","s":"solid","d":11.4,"h":34.29},{"l":"z1","s":"solid","d":13.9,"h":34.26},{"l":"z1","s":"solid","d":15,"h":34.29},
{"l":"z2","s":"solid","d":16.7,"h":34.26},{"l":"z2","s":"solid","d":18,"h":34.2},{"l":"z2","s":"solid","d":19.2,"h":34.23},{"l":"z2","s":"solid","d":19.9,"h":34.07},{"l":"z2","s":"solid","d":20.5,"h":34.2},{"l":"z2","s":"solid","d":21.6,"h":34.02},{"l":"z2","s":"solid","d":22.9,"h":34.04},{"l":"z2","s":"solid","d":26.35,"h":34.04},{"l":"z2","s":"solid","d":27.5,"h":34},{"l":"z2","s":"solid","d":28.4,"h":33.9},{"l":"z2","s":"solid","d":30,"h":33.78},{"l":"z2","s":"solid","d":30.8,"h":33.58},{"l":"z2","s":"solid","d":31.5,"h":33.71},{"l":"z2","s":"solid","d":33.2,"h":33.58},{"l":"z2","s":"solid","d":34.7,"h":33.5},{"l":"z2","s":"solid","d":36.4,"h":33.55},{"l":"z2","s":"solid","d":37.5,"h":33.29},{"l":"z2","s":"solid","d":38.1,"h":33.26},{"l":"z2","s":"solid","d":38.5,"h":33.39},{"l":"z2","s":"solid","d":39.2,"h":33.1},{"l":"z2","s":"solid","d":40.75,"h":32.97},{"l":"z2","s":"solid","d":41.9,"h":32.85},{"l":"z2","s":"solid","d":42.8,"h":32.6},{"l":"z2","s":"solid","d":44,"h":32.64},
{"l":"n1","s":"dash","d":0,"h":36.66},{"l":"n1","s":"dash","d":0.8,"h":36.56},{"l":"n1","s":"dash","d":1.9,"h":36.66},{"l":"n1","s":"dash","d":3.6,"h":36.63},{"l":"n1","s":"dash","d":4.4,"h":36.74},{"l":"n1","s":"dash","d":5,"h":36.63},{"l":"n1","s":"dash","d":7.05,"h":36.73},{"l":"n1","s":"dash","d":8.2,"h":36.63},{"l":"n1","s":"dash","d":10.45,"h":36.63},{"l":"n1","s":"dash","d":12.35,"h":36.58},{"l":"n1","s":"dash","d":13.5,"h":36.58},{"l":"n1","s":"dash","d":14.25,"h":36.47},{"l":"n1","s":"dash","d":15.75,"h":36.5},{"l":"n1","s":"dash","d":16.7,"h":36.37},{"l":"n1","s":"dash","d":18,"h":36.42},{"l":"n1","s":"dash","d":18.6,"h":36.5},{"l":"n1","s":"dash","d":19.9,"h":36.37},{"l":"n1","s":"dash","d":21.8,"h":36.26},{"l":"n1","s":"dash","d":23.7,"h":36.26},{"l":"n1","s":"dash","d":26.5,"h":36.3},{"l":"n1","s":"dash","d":28.2,"h":36.2},{"l":"n1","s":"dash","d":29.2,"h":36.1},
{"l":"n2","s":"dash","d":31.65,"h":36.1},{"l":"n2","s":"dash","d":33,"h":36.05},{"l":"n2","s":"dash","d":33.9,"h":36.26},{"l":"n2","s":"dash","d":35.4,"h":36.2},{"l":"n2","s":"dash","d":37,"h":36.14},{"l":"n2","s":"dash","d":37.9,"h":36.05},{"l":"n2","s":"dash","d":40,"h":36.26},{"l":"n2","s":"dash","d":41.9,"h":36.14},{"l":"n2","s":"dash","d":42.6,"h":35.98},{"l":"n2","s":"dash","d":44,"h":35.98},
{"l":"n3","s":"dash","d":6.67,"h":40},{"l":"n3","s":"dash","d":7.6,"h":39.87},{"l":"n3","s":"dash","d":8.95,"h":39.7},{"l":"n3","s":"dash","d":10.3,"h":39.58},{"l":"n3","s":"dash","d":10.7,"h":39.42},{"l":"n3","s":"dash","d":11.4,"h":39.6},{"l":"n3","s":"dash","d":12.7,"h":39.38},{"l":"n3","s":"dash","d":14.25,"h":39.34},{"l":"n3","s":"dash","d":15.75,"h":39.25},{"l":"n3","s":"dash","d":17,"h":39.14},{"l":"n3","s":"dash","d":18,"h":39.29},{"l":"n3","s":"dash","d":19,"h":39.12},{"l":"n3","s":"dash","d":20.9,"h":39.17},{"l":"n3","s":"dash","d":21.8,"h":39.06},{"l":"n3","s":"dash","d":23,"h":38.9},
{"l":"n4","s":"dash","d":25.3,"h":38.9},{"l":"n4","s":"dash","d":26.2,"h":38.77},{"l":"n4","s":"dash","d":27.2,"h":38.9},{"l":"n4","s":"dash","d":27.9,"h":38.77},{"l":"n4","s":"dash","d":29.4,"h":38.85},{"l":"n4","s":"dash","d":30.7,"h":38.69},{"l":"n4","s":"dash","d":32.4,"h":38.69},{"l":"n4","s":"dash","d":33.5,"h":38.4},{"l":"n4","s":"dash","d":34.3,"h":38.63},{"l":"n4","s":"dash","d":35.25,"h":38.57},{"l":"n4","s":"dash","d":36,"h":38.36},{"l":"n4","s":"dash","d":37,"h":38.4},{"l":"n4","s":"dash","d":37.3,"h":38.67},{"l":"n4","s":"dash","d":39.8,"h":38.52},{"l":"n4","s":"dash","d":40.4,"h":38.69},{"l":"n4","s":"dash","d":41.1,"h":38.69},{"l":"n4","s":"dash","d":42.05,"h":38.28},{"l":"n4","s":"dash","d":43,"h":38.04},{"l":"n4","s":"dash","d":44,"h":37.67},
{"l":"z3","s":"solid","d":0,"h":21.71},{"l":"z3","s":"solid","d":0.8,"h":21.83},{"l":"z3","s":"solid","d":1.9,"h":21.61},{"l":"z3","s":"solid","d":4.8,"h":21.5},{"l":"z3","s":"solid","d":8.6,"h":21.42},{"l":"z3","s":"solid","d":10.8,"h":21.06},{"l":"z3","s":"solid","d":12,"h":21.06},{"l":"z3","s":"solid","d":13.9,"h":20.9},{"l":"z3","s":"solid","d":16.1,"h":20.74},{"l":"z3","s":"solid","d":18,"h":20.53},{"l":"z3","s":"solid","d":19.9,"h":20.3},{"l":"z3","s":"solid","d":21.8,"h":20.3},{"l":"z3","s":"solid","d":23.7,"h":20.16},{"l":"z3","s":"solid","d":25.2,"h":20.24},{"l":"z3","s":"solid","d":26.35,"h":20.04},{"l":"z3","s":"solid","d":26.5,"h":20.15},{"l":"z3","s":"solid","d":28.4,"h":19.8},{"l":"z3","s":"solid","d":30.1,"h":19.72},{"l":"z3","s":"solid","d":31.3,"h":19.6},{"l":"z3","s":"solid","d":33.2,"h":19.5},{"l":"z3","s":"solid","d":35.05,"h":19.35},{"l":"z3","s":"solid","d":37,"h":19.1},{"l":"z3","s":"solid","d":37.9,"h":19.28},{"l":"z3","s":"solid","d":38.75,"h":19.31},
{"l":"z4","s":"solid","d":40.45,"h":19.18},{"l":"z4","s":"solid","d":40.9,"h":19.23},{"l":"z4","s":"solid","d":44,"h":19.1},
{"l":"z5","s":"solid","d":0,"h":16.8},{"l":"z5","s":"solid","d":1,"h":16.91},{"l":"z5","s":"solid","d":2,"h":16.91},{"l":"z5","s":"solid","d":3.3,"h":17.24},{"l":"z5","s":"solid","d":5.7,"h":17.04},
{"l":"z6","s":"solid","d":7.5,"h":16.96},{"l":"z6","s":"solid","d":8.1,"h":17.09},{"l":"z6","s":"solid","d":10,"h":16.96},{"l":"z6","s":"solid","d":12,"h":16.48},{"l":"z6","s":"solid","d":12.6,"h":16.43},{"l":"z6","s":"solid","d":12.9,"h":16.64},{"l":"z6","s":"solid","d":15.2,"h":16.72},{"l":"z6","s":"solid","d":16,"h":16.4},{"l":"z6","s":"solid","d":16.5,"h":16.07},{"l":"z6","s":"solid","d":16.8,"h":15.59},{"l":"z6","s":"solid","d":16.82,"h":15},
{"l":"z7","s":"solid","d":18.8,"h":15},{"l":"z7","s":"solid","d":18.3,"h":15.55},{"l":"z7","s":"solid","d":18.1,"h":15.67},{"l":"z7","s":"solid","d":18.32,"h":15.83},{"l":"z7","s":"solid","d":18.5,"h":15.58},{"l":"z7","s":"solid","d":18.9,"h":15.99},{"l":"z7","s":"solid","d":19.07,"h":15.75},{"l":"z7","s":"solid","d":19.45,"h":15.83},{"l":"z7","s":"solid","d":19.9,"h":16.36},{"l":"z7","s":"solid","d":20.5,"h":16.2},{"l":"z7","s":"solid","d":21.25,"h":16.04},{"l":"z7","s":"solid","d":21.4,"h":15.83},
{"l":"z8","s":"solid","d":19.4,"h":15},{"l":"z8","s":"solid","d":19.45,"h":15.6},{"l":"z8","s":"solid","d":19.95,"h":15},
{"l":"z9","s":"solid","d":22.9,"h":15.08},{"l":"z9","s":"solid","d":24,"h":15.08},
{"l":"z10","s":"solid","d":28.33,"h":15.1},{"l":"z10","s":"solid","d":29.4,"h":15.26},{"l":"z10","s":"solid","d":29.75,"h":15.5},{"l":"z10","s":"solid","d":30.7,"h":15.5},{"l":"z10","s":"solid","d":31.1,"h":16.23},{"l":"z10","s":"solid","d":32.6,"h":16.48},
{"l":"z11","s":"solid","d":34.3,"h":17},{"l":"z11","s":"solid","d":35,"h":16.88},{"l":"z11","s":"solid","d":35.8,"h":17.29},{"l":"z11","s":"solid","d":36.8,"h":17.04},{"l":"z11","s":"solid","d":37.9,"h":17.53},{"l":"z11","s":"solid","d":39.2,"h":17.5},{"l":"z11","s":"solid","d":40.2,"h":17.04},{"l":"z11","s":"solid","d":41.9,"h":16.9},{"l":"z11","s":"solid","d":42.6,"h":16.64},{"l":"z11","s":"solid","d":44,"h":16.35}],
"topRings":[{"d":28.47,"h":15.78,"sz":70},{"d":30.2,"h":16.1,"sz":110},{"d":29.66,"h":16.07,"sz":6},{"d":31.46,"h":15.73,"sz":6},{"d":32.03,"h":15.73,"sz":2},{"d":32.08,"h":16.37,"sz":4}],
"topLabels":[{"d":5.4,"h":33.88,"t":"0"},{"d":25.74,"h":34.15,"t":"-20"},{"d":43.6,"h":36.4,"t":"-20"},{"d":29.56,"h":21,"t":"0"},{"d":6.06,"h":16.7,"t":"0"}],
"botLabels":[{"d":15.85,"h":34.36,"t":"0"},{"d":24,"h":38.93,"t":"-20"},{"d":30.3,"h":36.17,"t":"-20"},{"d":6.67,"h":17.13,"t":"0"},{"d":39.6,"h":19.26,"t":"0"},{"d":33.5,"h":16.72,"t":"0"},{"d":22.2,"h":15.59,"t":"0"}],
"bar":[{"v":"-25","lo":-25,"hi":-20},{"v":"-20","lo":-20,"hi":-15},{"v":"-15","lo":-15,"hi":-10},{"v":"-10","lo":-10,"hi":-5},{"v":"-5","lo":-5,"hi":0},{"v":"0","lo":0,"hi":5},{"v":"5","lo":5,"hi":10},{"v":"10","lo":10,"hi":15},{"v":"15","lo":15,"hi":20},{"v":"20","lo":20,"hi":25}],
"caps":[{"r":"low","x":0,"lo":-25,"hi":-25},{"r":"low","x":0.5,"lo":-27.5,"hi":-25},{"r":"low","x":1,"lo":-25,"hi":-25},{"r":"high","x":0,"lo":25,"hi":25},{"r":"high","x":0.5,"lo":25,"hi":27.5},{"r":"high","x":1,"lo":25,"hi":25}],
"frame":[{"lo":-25,"hi":25}]
},
"columns":2,"bounds":"flush","spacing":{"row":47,"column":48},
"concat":[
{"title":"ICON-A R2B9 L191","width":775,"height":515,"resolve":{"scale":{"color":"independent"}},
"layer":[
{"data":{"name":"topBands"},"transform":[{"fold":["a","b","c","e","f","g","h","i","j","k","l","m","n","o","p","q"],"as":["key","top"]},{"filter":"isValid(datum.top)"}],"mark":{"type":"area","clip":true},"encoding":{"x":{"field":"d","type":"quantitative","scale":{"domain":[0,44],"nice":false,"zero":false},"axis":{"values":[0,7,14,21,30,37,44],"labels":false,"title":null}},"y":{"field":"top","type":"quantitative","stack":null,"scale":{"domain":[15,40],"nice":false,"zero":false},"axis":{"values":[15,20,25,30,35,40],"title":"Height (km)"}},"y2":{"datum":15},"color":{"field":"key","type":"nominal","legend":null,"scale":{"domain":["a","b","c","e","f","g","h","i","j","k","l","m","n","o","p","q"],"range":["#bc5638","#d2917a","#e6d1ca","#d0d8dc","#81aec0","#3787ba","#1855bd","#232c69","#1855bd","#3787ba","#81aec0","#d0d8dc","#e6d1ca","#d2917a","#e6d1ca","#d0d8dc"]}}}},
{"data":{"name":"topPatches"},"mark":{"type":"area","clip":true},"encoding":{"x":{"field":"d","type":"quantitative"},"y":{"field":"lo","type":"quantitative","stack":null},"y2":{"field":"hi"},"detail":{"field":"r"},"color":{"field":"v","type":"nominal","legend":null,"scale":{"domain":["lt","-15","-10","-5","0","5","10","15"],"range":["#1a1e45","#3787ba","#81aec0","#d0d8dc","#e6d1ca","#d2917a","#bc5638","#9c1825"]}}}},
{"data":{"name":"topLines"},"mark":{"type":"line","clip":true,"color":"black","strokeWidth":2.6},"encoding":{"x":{"field":"d","type":"quantitative"},"y":{"field":"h","type":"quantitative"},"detail":{"field":"l"},"strokeDash":{"field":"s","type":"nominal","legend":null,"scale":{"domain":["solid","dash"],"range":[[1,0],[9,4]]}}}},
{"data":{"name":"topRings"},"mark":{"type":"point","filled":false,"color":"black","strokeWidth":2.4,"opacity":1},"encoding":{"x":{"field":"d","type":"quantitative"},"y":{"field":"h","type":"quantitative"},"size":{"field":"sz","type":"quantitative","legend":null,"scale":null}}},
{"data":{"name":"topLabels"},"mark":{"type":"text","clip":true,"fontSize":17.5,"color":"black","font":"DejaVu Sans"},"encoding":{"x":{"field":"d","type":"quantitative"},"y":{"field":"h","type":"quantitative"},"text":{"field":"t"}}}
]},
{"width":27,"height":515,"view":{"stroke":null},"layer":[
{"data":{"name":"bar"},"mark":{"type":"rect"},"encoding":{"y":{"field":"lo","type":"quantitative","scale":{"domain":[-27.5,27.5],"nice":false,"zero":false},"axis":{"orient":"right","values":[-20,-10,0,10,20],"title":"ua / ms⁻¹","titleAngle":270,"domain":false,"labelExpr":"replace(datum.label,'-','−')"}},"y2":{"field":"hi"},"color":{"field":"v","type":"nominal","legend":null,"scale":{"domain":["-25","-20","-15","-10","-5","0","5","10","15","20","low","high"],"range":["#232c69","#1855bd","#3787ba","#81aec0","#d0d8dc","#e6d1ca","#d2917a","#bc5638","#9c1825","#5e0d22","#1a1e45","#3f0a1a"]}}}},
{"data":{"name":"caps"},"mark":{"type":"area"},"encoding":{"x":{"field":"x","type":"quantitative","scale":{"domain":[0,1],"nice":false},"axis":null},"y":{"field":"lo","type":"quantitative","stack":null},"y2":{"field":"hi"},"color":{"field":"r","type":"nominal","legend":null}}},
{"data":{"name":"frame"},"mark":{"type":"rect","fillOpacity":0,"stroke":"black","strokeWidth":1},"encoding":{"y":{"field":"lo","type":"quantitative"},"y2":{"field":"hi"}}}
]},
{"title":"ERA5.1 reanalysis","width":775,"height":515,"resolve":{"scale":{"color":"independent"}},
"layer":[
{"data":{"name":"botBands"},"transform":[{"fold":["f","g","h","i","j","k","l","m","n","o","p","q"],"as":["key","top"]},{"filter":"isValid(datum.top)"}],"mark":{"type":"area","clip":true},"encoding":{"x":{"field":"d","type":"quantitative","scale":{"domain":[0,44],"nice":false,"zero":false},"axis":{"values":[0,7,14,21,30,37,44],"title":null,"labelAngle":-32,"labelAlign":"right","labelBaseline":"top","labelPadding":3,"labelFontSize":19,"labelOffset":-3,"labelExpr":"timeFormat(datetime(2020,3,1+datum.value),'%d. %b')"}},"y":{"field":"top","type":"quantitative","stack":null,"scale":{"domain":[15,40],"nice":false,"zero":false},"axis":{"values":[15,20,25,30,35,40],"title":"Height (km)"}},"y2":{"datum":15},"color":{"field":"key","type":"nominal","legend":null,"scale":{"domain":["f","g","h","i","j","k","l","m","n","o","p","q"],"range":["#81aec0","#3787ba","#1855bd","#232c69","#1855bd","#3787ba","#81aec0","#d0d8dc","#e6d1ca","#d2917a","#e6d1ca","#d0d8dc"]}}}},
{"data":{"name":"botPatches"},"mark":{"type":"area","clip":true},"encoding":{"x":{"field":"d","type":"quantitative"},"y":{"field":"lo","type":"quantitative","stack":null},"y2":{"field":"hi"},"detail":{"field":"r"},"color":{"field":"v","type":"nominal","legend":null,"scale":{"domain":["lt","-15","-10","-5","0","5","10","15"],"range":["#1a1e45","#3787ba","#81aec0","#d0d8dc","#e6d1ca","#d2917a","#bc5638","#9c1825"]}}}},
{"data":{"name":"botLines"},"mark":{"type":"line","clip":true,"color":"black","strokeWidth":2.6,"order":false},"encoding":{"x":{"field":"d","type":"quantitative"},"y":{"field":"h","type":"quantitative"},"detail":{"field":"l"},"strokeDash":{"field":"s","type":"nominal","legend":null,"scale":{"domain":["solid","dash"],"range":[[1,0],[9,4]]}}}},
{"data":{"name":"botLabels"},"mark":{"type":"text","clip":true,"fontSize":17.5,"color":"black","font":"DejaVu Sans"},"encoding":{"x":{"field":"d","type":"quantitative"},"y":{"field":"h","type":"quantitative"},"text":{"field":"t"}}}
]},
{"width":27,"height":515,"view":{"stroke":null},"layer":[
{"data":{"name":"bar"},"mark":{"type":"rect"},"encoding":{"y":{"field":"lo","type":"quantitative","scale":{"domain":[-27.5,27.5],"nice":false,"zero":false},"axis":{"orient":"right","values":[-20,-10,0,10,20],"title":"ua / ms⁻¹","titleAngle":270,"domain":false,"labelExpr":"replace(datum.label,'-','−')"}},"y2":{"field":"hi"},"color":{"field":"v","type":"nominal","legend":null,"scale":{"domain":["-25","-20","-15","-10","-5","0","5","10","15","20","low","high"],"range":["#232c69","#1855bd","#3787ba","#81aec0","#d0d8dc","#e6d1ca","#d2917a","#bc5638","#9c1825","#5e0d22","#1a1e45","#3f0a1a"]}}}},
{"data":{"name":"caps"},"mark":{"type":"area"},"encoding":{"x":{"field":"x","type":"quantitative","scale":{"domain":[0,1],"nice":false},"axis":null},"y":{"field":"lo","type":"quantitative","stack":null},"y2":{"field":"hi"},"color":{"field":"r","type":"nominal","legend":null}}},
{"data":{"name":"frame"},"mark":{"type":"rect","fillOpacity":0,"stroke":"black","strokeWidth":1},"encoding":{"y":{"field":"lo","type":"quantitative"},"y2":{"field":"hi"}}}
]}
]}
